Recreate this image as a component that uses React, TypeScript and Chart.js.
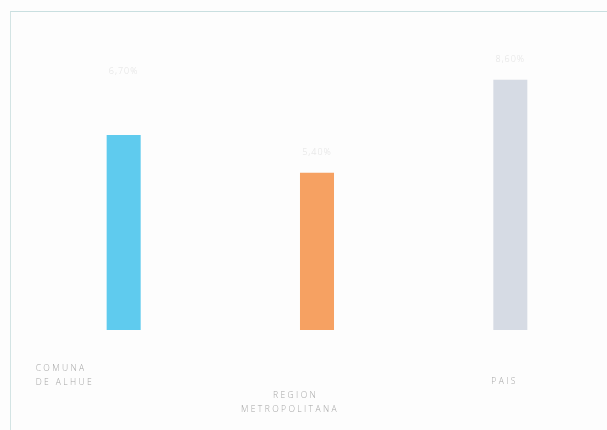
import React, { useEffect, useRef } from "react";
import { Chart, registerables } from "chart.js";

Chart.register(...registerables);

const categories: string[][] = [["COMUNA", "DE ALHUE"], ["REGION", "METROPOLITANA"], ["PAIS"]];
const values: number[] = [6.7, 5.4, 8.6];
const valueLabels: string[] = ["6,70%", "5,40%", "8,60%"];
const barColors: string[] = ["#5fcbee", "#f6a162", "#d6dbe4"];

const labelPlugin = {
  id: "customLabels",
  afterDatasetsDraw(chart: any, _args: any, opts: any) {
    const ctx = chart.ctx;
    const meta = chart.getDatasetMeta(0);
    ctx.save();
    meta.data.forEach((bar: any, i: number) => {
      // value labels
      ctx.font = "300 9px 'Open Sans', sans-serif";
      ctx.fillStyle = "#e2e2e2";
      ctx.textAlign = "center";
      ctx.textBaseline = "alphabetic";
      (ctx as any).letterSpacing = "1px";
      ctx.fillText(valueLabels[i], bar.x, bar.y - opts.valueOffsets[i]);
      // category labels
      ctx.font = "300 8.5px 'Open Sans', sans-serif";
      ctx.fillStyle = "#a4a4a4";
      (ctx as any).letterSpacing = "2.4px";
      const [dx, dy] = opts.catOffsets[i];
      const lines = categories[i];
      lines.forEach((ln: string, j: number) => {
        ctx.textAlign = opts.catAlign[i][j];
        ctx.fillText(ln, bar.x + dx + opts.catLineDx[i][j], chart.chartArea.bottom + dy + j * 14);
      });
    });
    ctx.restore();
  },
};

export default function App() {
  const ref = useRef<HTMLCanvasElement | null>(null);
  useEffect(() => {
    if (!ref.current) return;
    const chart = new Chart(ref.current, {
      type: "bar",
      data: {
        labels: categories.map((c) => c.join(" ")),
        datasets: [
          {
            data: values,
            backgroundColor: barColors,
            borderWidth: 0,
            barPercentage: 0.176,
            categoryPercentage: 1,
          },
        ],
      },
      options: {
        animation: false,
        responsive: false,
        devicePixelRatio: 1,
        layout: { padding: { left: 27, right: 0, top: 39, bottom: 100 } },
        plugins: {
          legend: { display: false },
          tooltip: { enabled: false },
          customLabels: {
            valueOffsets: [61, 18, 18],
            catOffsets: [[-88, 41], [-44, 68], [-19, 54]],
            catAlign: [["left", "left"], ["left", "left"], ["left"]],
            catLineDx: [[0, 0], [0, -32], [0]],
          },
        } as any,
        scales: {
          x: { display: false },
          y: { display: false, min: 0, max: 10 },
        },
      },
      plugins: [labelPlugin],
    });
    return () => chart.destroy();
  }, []);
  return (
    <div
      style={{
        position: "fixed",
        left: 0,
        top: 0,
        width: 607,
        height: 430,
        background: "#fdfdfd",
        overflow: "hidden",
      }}
    >
      <div
        style={{
          position: "absolute",
          left: 10,
          top: 11,
          right: 0,
          bottom: 0,
          borderTop: "1px solid #c9dfe0",
          borderLeft: "1px solid #d3e4e4",
        }}
      />
      <canvas ref={ref} width={607} height={430} style={{ position: "absolute", left: 0, top: 0 }} />
    </div>
  );
}
